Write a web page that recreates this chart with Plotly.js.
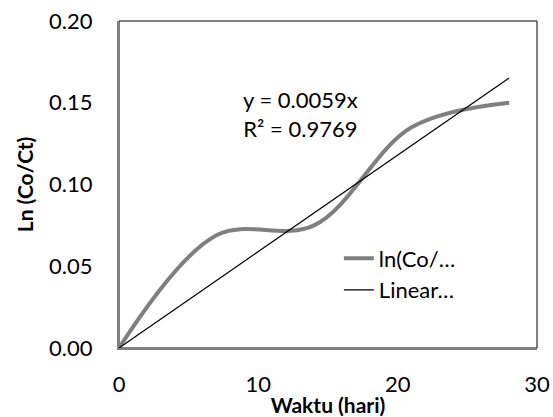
<!DOCTYPE html>
<html>
<head>
<meta charset="utf-8">
<script src="https://cdn.plot.ly/plotly-3.0.1.min.js"></script>
<style>html,body{margin:0;padding:0;background:#fff;}#chart{width:553px;height:417px;}</style>
</head>
<body>
<div id="chart"></div>
<script>
// Data
var days = [0, 7, 14, 21, 28];
var lnCoCt = [0, 0.069, 0.075, 0.135, 0.150];
var trendSlope = 0.0059;
var seriesName = 'ln(Co/…';
var trendName = 'Linear…';
var equationText = 'y = 0.0059x';
var r2Text = 'R² = 0.9769';
var xTicks = [0, 10, 20, 30];
var yTicks = [0, 0.05, 0.10, 0.15, 0.20];
var yTickLabels = ['0.00', '0.05', '0.10', '0.15', '0.20'];

var trendX = [days[0], days[days.length - 1]];
var trendY = trendX.map(function (x) { return trendSlope * x; });

var FONT = 'Lato, "Open Sans", sans-serif';

var traces = [
  {
    x: days, y: lnCoCt, type: 'scatter', mode: 'lines', name: seriesName,
    line: {color: '#7f7f7f', width: 4, shape: 'spline', smoothing: 1}
  },
  {
    x: trendX, y: trendY, type: 'scatter', mode: 'lines', name: trendName,
    line: {color: '#000000', width: 1.2}
  }
];

var layout = {
  width: 553, height: 417,
  margin: {l: 119, r: 16, t: 21, b: 69},
  paper_bgcolor: '#fff', plot_bgcolor: '#fff',
  font: {family: FONT, size: 22, color: '#000'},
  showlegend: true,
  legend: {
    x: 0.526, y: 0.338, xanchor: 'left', yanchor: 'top',
    bgcolor: 'rgba(0,0,0,0)', font: {family: FONT, size: 22, color: '#000'},
    tracegroupgap: 0, itemwidth: 30
  },
  xaxis: {
    range: [0, 30], tickvals: xTicks, ticktext: xTicks.map(String),
    showgrid: false, zeroline: false, showline: true, linecolor: '#7f7f7f', linewidth: 2,
    ticks: '', ticklabelstandoff: 16,
    tickfont: {family: FONT, size: 22, color: '#000'},
    title: {text: '<b>Waktu (hari)</b>', font: {family: FONT, size: 21, color: '#000'}, standoff: 0}
  },
  yaxis: {
    range: [0, 0.2], tickvals: yTicks, ticktext: yTickLabels,
    showgrid: false, zeroline: false, showline: true, linecolor: '#7f7f7f', linewidth: 2,
    ticks: '', ticklabelstandoff: 20,
    tickfont: {family: FONT, size: 22, color: '#000'},
    title: {text: '<b>Ln (Co/Ct)</b>', font: {family: FONT, size: 21, color: '#000'}, standoff: 10}
  },
  shapes: [
    {type: 'rect', xref: 'paper', yref: 'paper', x0: 0, x1: 1, y0: 0, y1: 1,
     line: {color: '#000', width: 1}, layer: 'below'}
  ],
  annotations: [
    {xref: 'x', yref: 'y', x: 13.0, y: 0.143, text: equationText + '<br>' + r2Text,
     showarrow: false, align: 'center', font: {family: FONT, size: 22, color: '#000'}}
  ]
};

Plotly.newPlot('chart', traces, layout, {displayModeBar: false, staticPlot: true});
</script>
</body>
</html>
